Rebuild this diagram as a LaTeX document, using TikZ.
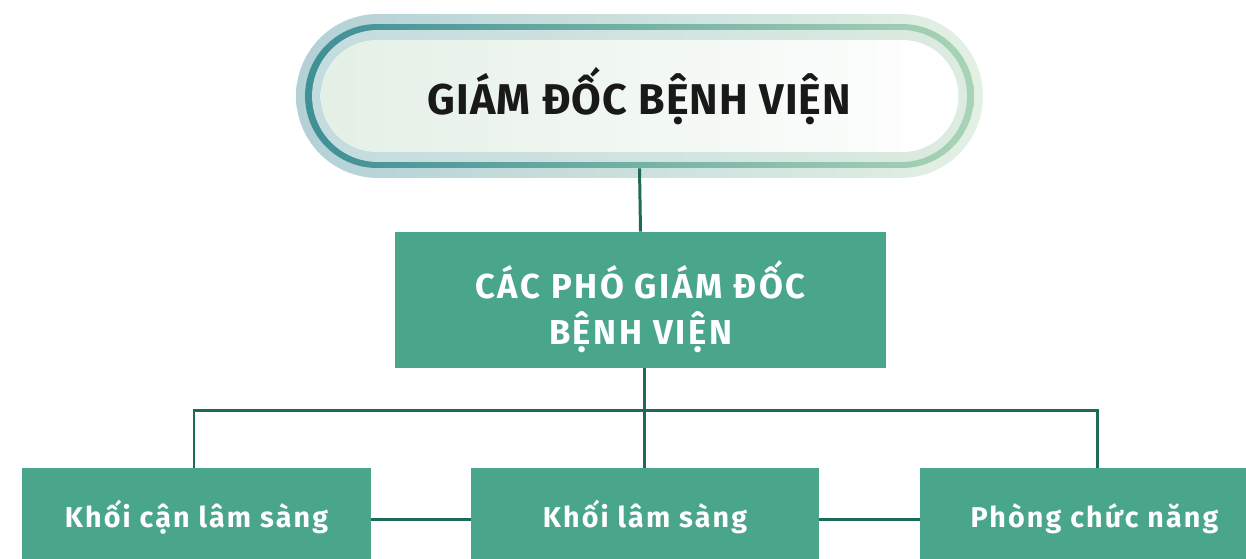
\documentclass[tikz,border=0pt]{standalone}
\usepackage{fontspec}
\setmainfont{Fira Sans}
\newfontfamily\titlefont[LetterSpace=2.5]{Fira Sans}
\newfontfamily\unitfont[LetterSpace=7.5]{Fira Sans}
\usetikzlibrary{calc}
\usetikzlibrary{shapes.misc}

\definecolor{boxgreen}{HTML}{49A68A}
\definecolor{linegreen}{HTML}{1B6B58}
\definecolor{haloL}{HTML}{B3D1D6}
\definecolor{haloR}{HTML}{E4F0E4}
\definecolor{ringL}{HTML}{3F8F96}
\definecolor{ringR}{HTML}{A9D4B6}
\definecolor{bandL}{HTML}{C3DCDF}
\definecolor{bandR}{HTML}{DDEBE0}
\definecolor{innerL}{HTML}{E4F0E6}

\begin{document}
\begin{tikzpicture}[
  x=0.02cm, y=-0.02cm,
  pill/.style={rounded rectangle,inner sep=0pt,draw=none},
  unit/.style={rectangle,fill=boxgreen,text=white,inner sep=0pt,align=center},
  dept/.style={unit,minimum width=6.98cm,minimum height=2.2cm,text height=0.5cm,text depth=0.34cm,
               font=\unitfont\fontsize{16.3}{18}\bfseries},
  link/.style={draw=linegreen,line width=1.7pt}]

  \useasboundingbox (0,0) rectangle (1246,558);

  % director
  \node[pill,left color=haloL,right color=haloR,minimum width=13.74cm,minimum height=3.28cm] (halo) at (639.5,96) {};
  \node[pill,left color=ringL,right color=ringR,minimum width=13.38cm,minimum height=2.88cm] (ring) at (639.5,96) {};
  \node[pill,left color=bandL,right color=bandR,minimum width=13.1cm,minimum height=2.64cm] (band) at (639.5,96) {};
  \node[pill,left color=innerL,right color=white,minimum width=12.76cm,minimum height=2.24cm,
        font=\titlefont\fontsize{24.5}{28}\bfseries,text=black!90] (gd) at (639.5,96) {GIÁM ĐỐC BỆNH VIỆN};

  % deputies
  \node[unit,minimum width=9.82cm,minimum height=2.72cm,
        label={[name=pgdtext,yshift=-0.13cm,text=white,align=center,
                font=\unitfont\fontsize{19.7}{26}\bfseries]center:CÁC PHÓ GIÁM ĐỐC\\BỆNH VIỆN}] (pgd) at (640.5,300) {};

  % departments
  \node[dept] (cls) at (196.5,523) {Khối cận lâm sàng};
  \node[dept,minimum width=6.96cm] (ls) at (645,523) {Khối lâm sàng};
  \node[dept] (pcn) at (1094.5,523) {Phòng chức năng};

  \coordinate (bus) at (644,410);

  \draw[link] (ring.south) -- (pgd.north);
  \draw[link] (pgd.south -| bus) -- (ls.north -| bus);
  \draw[link] (cls.north -| 194,0) |- (bus) -| (pcn.north -| 1097,0);
  \draw[link] (cls.east |- 0,519) -- (ls.west |- 0,519);
  \draw[link] (ls.east |- 0,519) -- (pcn.west |- 0,519);
\end{tikzpicture}
\end{document}
